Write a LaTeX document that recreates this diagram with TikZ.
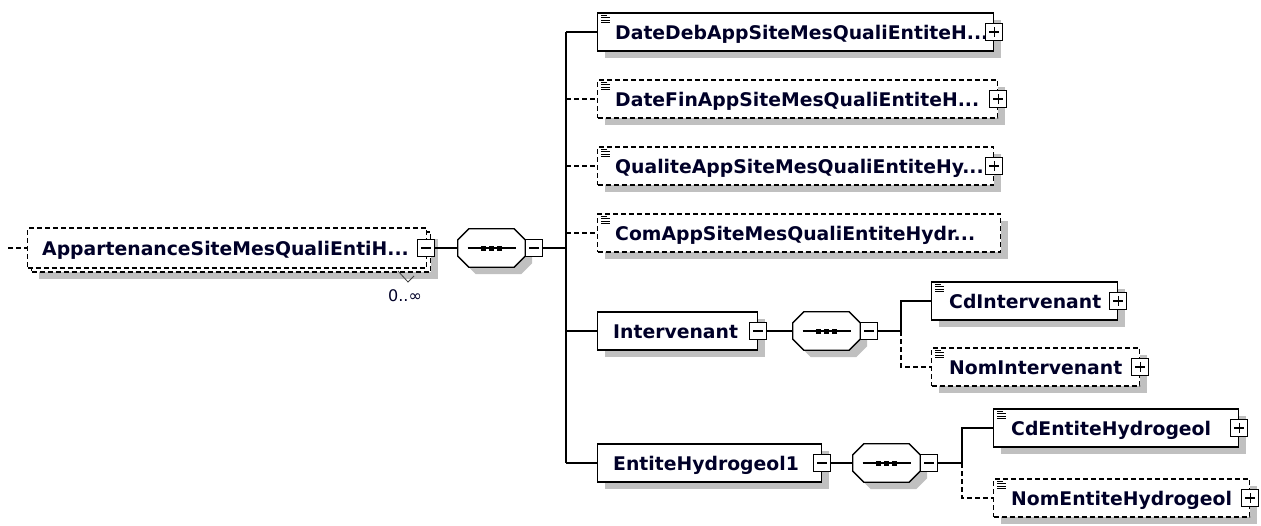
\documentclass[tikz,border=0pt]{standalone}
\usepackage{fontspec}
\newfontfamily\dv{DejaVu Sans}
\usetikzlibrary{shadows,calc}
\definecolor{shgray}{RGB}{192,192,192}
\definecolor{navy}{RGB}{0,0,40}
\tikzset{
 base/.style={draw=black, line width=1.3pt, fill=white, inner sep=0pt, anchor=west, minimum height=38pt},
 shad/.style={drop shadow={shadow xshift=7pt, shadow yshift=-7pt, fill=shgray, opacity=1, draw=none}},
 reqbox/.style={base, shad},
 optbox/.style={base, shad, dash pattern=on 5pt off 3pt},
 lbl/.style={font=\dv\bfseries\fontsize{18.8}{20}\selectfont, text=navy, anchor=base west, inner sep=0pt},
 wire/.style={line width=1.3pt},
 owire/.style={line width=1.3pt, dash pattern=on 5pt off 3pt},
 sgnbox/.style={draw=black, fill=white, line width=1.2pt, minimum size=17pt, inner sep=0pt},
 plusbox/.style={sgnbox, path picture={
   \draw[line width=1.2pt] ([xshift=3.5pt]path picture bounding box.west) -- ([xshift=-3.5pt]path picture bounding box.east);
   \draw[line width=1.2pt] ([yshift=-3.5pt]path picture bounding box.north) -- ([yshift=3.5pt]path picture bounding box.south);}},
 minusbox/.style={sgnbox, path picture={
   \draw[line width=1.2pt] ([xshift=3.5pt]path picture bounding box.west) -- ([xshift=-3.5pt]path picture bounding box.east);}},
 seqbox/.style={minimum width=67pt, minimum height=38pt, inner sep=0pt},
}
\newcommand\octpath[3]{([xshift=#2+11pt,yshift=#3]#1.north west) -- ([xshift=#2-11pt,yshift=#3]#1.north east) -- ([xshift=#2,yshift=#3-11pt]#1.north east) -- ([xshift=#2,yshift=#3+11pt]#1.south east) -- ([xshift=#2-11pt,yshift=#3]#1.south east) -- ([xshift=#2+11pt,yshift=#3]#1.south west) -- ([xshift=#2,yshift=#3+11pt]#1.south west) -- ([xshift=#2,yshift=#3-11pt]#1.north west) -- cycle}
\newcommand\seqsym[1]{%
 \fill[shgray] \octpath{#1}{7pt}{-7pt};
 \draw[wire,fill=white] \octpath{#1}{0pt}{0pt};
 \draw[wire] ([xshift=-24pt]#1.center) -- ([xshift=24pt]#1.center);
 \foreach \d in {-8,0,8} \fill ([xshift=\d pt-2.5pt,yshift=-2.5pt]#1.center) rectangle ++(5pt,5pt);
}
\newcommand\docicon[1]{%
 \draw[line width=0.9pt] ([xshift=4pt,yshift=-3pt]#1.north west) -- ++(6pt,0pt)
   ([xshift=4pt,yshift=-5.5pt]#1.north west) -- ++(9pt,0pt)
   ([xshift=4pt,yshift=-8pt]#1.north west) -- ++(9pt,0pt)
   ([xshift=4pt,yshift=-10.5pt]#1.north west) -- ++(9pt,0pt);
}
\begin{document}
\begin{tikzpicture}[x=1pt,y=-1pt]
\fill[white] (0,0) rectangle (1261,525);
\useasboundingbox (0,0) rectangle (1261,525);

% root element (repeating)
\node[optbox, minimum width=399pt, minimum height=40pt] (root2) at (31,252) {};
\node[base, dash pattern=on 5pt off 3pt, minimum width=399pt, minimum height=40pt] (root) at (27,248) {};
\node[lbl] (rootl) at ($(root.west)+(15,7)$) {AppartenanceSiteMesQualiEntiH...};
\node[minusbox] (rootm) at (426,248) {};
\node[font=\dv\fontsize{16}{18}\selectfont, text=navy, inner sep=0pt] (occ) at (405,296) {0..∞};
\draw[line width=0.8pt, black!75] (398,271) -- (408,282) -- (414,276);
\coordinate (rin) at (8,248);
\draw[owire] (rin) -- (root.west);

% first sequence
\node[seqbox] (s1) at (491.5,248) {};
\seqsym{s1}
\node[minusbox] (s1m) at ($(s1.east)+(9,0)$) {};
\draw[wire] (rootm.east) -- (s1.west);
\coordinate (b1) at (566,248);
\draw[wire] (s1m.east) -- (b1);

% children of first sequence
\node[reqbox, minimum width=396pt] (datedeb) at (597,32) {};
\node[optbox, minimum width=400pt] (datefin) at (597,99) {};
\node[optbox, minimum width=396pt] (qualite) at (597,166) {};
\node[optbox, minimum width=403pt] (com) at (597,233) {};
\node[reqbox, minimum width=160pt] (interv) at (597,331) {};
\node[reqbox, minimum width=224pt] (entite) at (597,463) {};

\draw[wire] (b1 |- datedeb.west) -- (b1 |- entite.west);
\draw[wire] (b1 |- datedeb.west) -- (datedeb.west);
\draw[owire] (b1 |- datefin.west) -- (datefin.west);
\draw[owire] (b1 |- qualite.west) -- (qualite.west);
\draw[owire] (b1 |- com.west) -- (com.west);
\draw[wire] (b1 |- interv.west) -- (interv.west);
\draw[wire] (b1 |- entite.west) -- (entite.west);

\docicon{datedeb}\docicon{datefin}\docicon{qualite}\docicon{com}
\node[lbl] (datedebl) at ($(datedeb.west)+(18,7)$) {DateDebAppSiteMesQualiEntiteH...};
\node[lbl] (datefinl) at ($(datefin.west)+(18,7)$) {DateFinAppSiteMesQualiEntiteH...};
\node[lbl] (qualitel) at ($(qualite.west)+(18,7)$) {QualiteAppSiteMesQualiEntiteHy...};
\node[lbl] (coml) at ($(com.west)+(18,7)$) {ComAppSiteMesQualiEntiteHydr...};
\node[lbl] (intervl) at ($(interv.west)+(16,7)$) {Intervenant};
\node[lbl] (entitel) at ($(entite.west)+(16,7)$) {EntiteHydrogeol1};

\node[plusbox] (datedebp) at (datedeb.east) {};
\node[plusbox] (datefinp) at (datefin.east) {};
\node[plusbox] (qualitep) at (qualite.east) {};
\node[minusbox] (intervm) at (interv.east) {};
\node[minusbox] (entitem) at (entite.east) {};

% Intervenant sequence
\node[seqbox] (s2) at (826.5,331) {};
\seqsym{s2}
\node[minusbox] (s2m) at ($(s2.east)+(9,0)$) {};
\draw[wire] (intervm.east) -- (s2.west);
\coordinate (b2) at (901,331);
\draw[wire] (s2m.east) -- (b2);
\node[reqbox, minimum width=186pt] (cdint) at (931,301) {};
\node[optbox, minimum width=208pt] (nomint) at (931,367) {};
\draw[wire] (b2) |- (cdint.west);
\draw[owire] (b2) |- (nomint.west);
\docicon{cdint}\docicon{nomint}
\node[lbl] (cdintl) at ($(cdint.west)+(18,7)$) {CdIntervenant};
\node[lbl] (nomintl) at ($(nomint.west)+(18,7)$) {NomIntervenant};
\node[plusbox] (cdintp) at (cdint.east) {};
\node[plusbox] (nomintp) at (nomint.east) {};

% EntiteHydrogeol1 sequence
\node[seqbox] (s3) at (886.5,463) {};
\seqsym{s3}
\node[minusbox] (s3m) at ($(s3.east)+(9,0)$) {};
\draw[wire] (entitem.east) -- (s3.west);
\coordinate (b3) at (962,463);
\draw[wire] (s3m.east) -- (b3);
\node[reqbox, minimum width=245pt] (cdent) at (993,428) {};
\node[optbox, minimum width=256pt] (noment) at (993,498) {};
\draw[wire] (b3) |- (cdent.west);
\draw[owire] (b3) |- (noment.west);
\docicon{cdent}\docicon{noment}
\node[lbl] (cdentl) at ($(cdent.west)+(18,7)$) {CdEntiteHydrogeol};
\node[lbl] (nomentl) at ($(noment.west)+(18,7)$) {NomEntiteHydrogeol};
\node[plusbox] (cdentp) at (cdent.east) {};
\node[plusbox] (nomentp) at (noment.east) {};
\end{tikzpicture}
\end{document}
